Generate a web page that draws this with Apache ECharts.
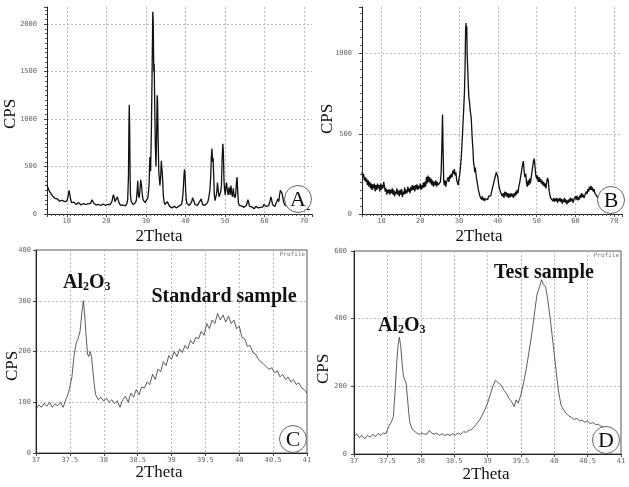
<!DOCTYPE html>
<html>
<head>
<meta charset="utf-8">
<script src="https://cdn.jsdelivr.net/npm/echarts@6/dist/echarts.min.js"></script>
<style>html,body{margin:0;padding:0;background:#fff}#c{width:629px;height:487px}</style>
</head>
<body>
<div id="c"></div>
<script>
// Panel A: full XRD scan of the standard sample [2Theta, CPS]
const patternA = [[5.0,310],[5.2,280],[5.4,260],[5.6,240],[5.8,225],[6.0,215],[6.2,200],[6.4,190],[6.6,175],[6.8,180],[7.0,165],[7.2,170],[7.4,150],[7.6,160],[7.8,140],[8.0,150],[8.2,135],[8.4,155],[8.6,130],[8.8,145],[9.0,135],[9.2,150],[9.4,130],[9.6,140],[9.8,150],[10.0,135],[10.2,160],[10.4,180],[10.6,250],[10.7,255],[10.8,200],[11.0,150],[11.2,120],[11.4,130],[11.6,110],[11.8,125],[12.0,105],[12.2,120],[12.4,100],[12.6,115],[12.8,105],[13.0,120],[13.2,100],[13.4,110],[13.6,95],[13.8,115],[14.0,100],[14.2,110],[14.4,95],[14.6,105],[14.8,100],[15.0,115],[15.2,95],[15.4,110],[15.6,100],[15.8,120],[16.0,110],[16.2,130],[16.4,150],[16.6,140],[16.8,115],[17.0,100],[17.2,110],[17.4,95],[17.6,105],[17.8,90],[18.0,100],[18.2,95],[18.4,110],[18.6,90],[18.8,100],[19.0,95],[19.2,105],[19.4,85],[19.6,100],[19.8,90],[20.0,95],[20.2,85],[20.4,100],[20.6,90],[20.8,110],[21.0,100],[21.2,115],[21.4,130],[21.6,170],[21.8,205],[22.0,170],[22.2,130],[22.4,120],[22.6,140],[22.8,180],[23.0,160],[23.2,120],[23.4,100],[23.6,90],[23.8,95],[24.0,85],[24.2,95],[24.4,80],[24.6,90],[24.8,85],[25.0,100],[25.2,110],[25.4,150],[25.6,400],[25.7,880],[25.8,1150],[25.9,900],[26.0,450],[26.1,200],[26.3,130],[26.5,110],[26.8,100],[27.0,110],[27.2,105],[27.4,120],[27.6,150],[27.8,250],[27.95,350],[28.1,200],[28.3,170],[28.5,250],[28.7,360],[28.8,380],[28.9,300],[29.1,200],[29.3,150],[29.5,130],[29.8,120],[30.0,125],[30.2,140],[30.5,170],[30.8,300],[31.0,600],[31.2,450],[31.4,900],[31.6,1600],[31.75,2130],[31.85,2050],[32.0,1500],[32.1,1580],[32.25,1100],[32.4,700],[32.55,500],[32.7,800],[32.85,1250],[32.95,1200],[33.1,800],[33.25,450],[33.4,380],[33.55,300],[33.75,400],[33.9,560],[34.05,570],[34.2,400],[34.4,200],[34.6,130],[34.8,100],[35.0,90],[35.2,110],[35.4,130],[35.6,150],[35.8,110],[36.0,80],[36.2,70],[36.4,85],[36.6,65],[36.8,75],[37.0,65],[37.2,80],[37.4,70],[37.6,75],[37.8,65],[38.0,80],[38.2,70],[38.4,85],[38.6,75],[38.8,90],[39.0,100],[39.2,140],[39.4,220],[39.6,380],[39.75,470],[39.9,420],[40.05,250],[40.2,150],[40.4,110],[40.6,95],[40.8,100],[41.0,90],[41.2,100],[41.4,110],[41.6,130],[41.8,170],[42.0,180],[42.2,130],[42.4,100],[42.6,90],[42.8,95],[43.0,90],[43.2,100],[43.4,110],[43.6,130],[43.8,150],[44.0,160],[44.2,120],[44.4,95],[44.6,90],[44.8,105],[45.0,95],[45.2,110],[45.4,100],[45.6,120],[45.8,150],[46.0,200],[46.2,260],[46.4,400],[46.55,600],[46.7,690],[46.85,550],[47.0,590],[47.15,400],[47.3,200],[47.5,140],[47.7,150],[47.9,220],[48.1,330],[48.3,250],[48.5,180],[48.7,170],[48.9,230],[49.1,300],[49.3,600],[49.45,740],[49.6,650],[49.75,350],[49.9,250],[50.05,200],[50.2,280],[50.4,330],[50.6,240],[50.8,200],[51.0,280],[51.15,250],[51.3,200],[51.5,300],[51.7,220],[51.9,180],[52.1,270],[52.3,200],[52.5,170],[52.7,200],[52.9,330],[53.05,390],[53.2,250],[53.4,120],[53.6,90],[53.8,80],[54.0,75],[54.2,85],[54.4,70],[54.6,80],[54.8,70],[55.0,85],[55.2,75],[55.4,90],[55.6,110],[55.8,150],[56.0,120],[56.2,80],[56.4,70],[56.6,60],[56.8,75],[57.0,60],[57.2,70],[57.4,55],[57.6,65],[57.8,80],[58.0,70],[58.2,85],[58.4,65],[58.6,75],[58.8,60],[59.0,70],[59.2,65],[59.4,80],[59.6,75],[59.8,100],[60.0,120],[60.2,110],[60.4,80],[60.6,70],[60.8,90],[61.0,85],[61.2,110],[61.4,140],[61.6,180],[61.8,150],[62.0,100],[62.2,85],[62.4,95],[62.6,80],[62.8,100],[63.0,120],[63.2,140],[63.4,160],[63.6,130],[63.8,200],[64.0,250],[64.2,240],[64.4,220],[64.6,180],[64.8,130],[65.0,110],[65.2,90],[65.4,80],[65.6,70],[65.8,85],[66.0,65],[66.2,70],[66.4,60],[66.6,55],[66.8,65],[67.0,50],[67.2,55],[67.4,45],[67.6,50],[67.8,60],[68.0,45],[68.2,50],[68.4,40],[68.6,55],[68.8,45],[69.0,50],[69.2,40],[69.4,50],[69.6,45],[69.8,55],[70.0,40],[70.2,50],[70.4,45],[70.6,55],[70.8,40],[71.0,50],[71.2,45],[71.4,50]];

// Panel B: full XRD scan of the test sample [2Theta, CPS]
const patternB = [[5.0,260],[5.2,230],[5.4,250],[5.6,210],[5.8,230],[6.0,200],[6.2,220],[6.4,180],[6.6,210],[6.8,170],[7.0,200],[7.2,160],[7.4,190],[7.6,150],[7.8,185],[8.0,160],[8.2,190],[8.4,140],[8.6,180],[8.8,150],[9.0,190],[9.2,160],[9.4,180],[9.6,140],[9.8,190],[10.0,150],[10.2,180],[10.4,160],[10.6,200],[10.8,170],[11.0,140],[11.2,160],[11.4,120],[11.6,150],[11.8,130],[12.0,155],[12.2,120],[12.4,150],[12.6,130],[12.8,160],[13.0,120],[13.2,150],[13.4,110],[13.6,140],[13.8,125],[14.0,160],[14.2,120],[14.4,145],[14.6,110],[14.8,150],[15.0,120],[15.2,155],[15.4,105],[15.6,140],[15.8,120],[16.0,165],[16.2,125],[16.4,150],[16.6,130],[16.8,170],[17.0,140],[17.2,160],[17.4,130],[17.6,170],[17.8,145],[18.0,180],[18.2,150],[18.4,175],[18.6,140],[18.8,180],[19.0,155],[19.2,185],[19.4,150],[19.6,175],[19.8,160],[20.0,190],[20.2,150],[20.4,180],[20.6,160],[20.8,195],[21.0,165],[21.2,200],[21.4,170],[21.6,230],[21.8,190],[22.0,240],[22.2,200],[22.4,230],[22.6,190],[22.8,220],[23.0,180],[23.2,210],[23.4,170],[23.6,200],[23.8,180],[24.0,210],[24.2,170],[24.4,200],[24.6,180],[24.8,190],[25.0,170],[25.2,200],[25.4,260],[25.6,450],[25.75,620],[25.9,400],[26.05,210],[26.2,180],[26.4,210],[26.6,170],[26.8,200],[27.0,190],[27.2,230],[27.4,200],[27.6,240],[27.8,220],[28.0,250],[28.2,230],[28.4,270],[28.6,250],[28.8,280],[29.0,240],[29.2,260],[29.4,210],[29.6,200],[29.8,180],[30.0,220],[30.2,250],[30.4,300],[30.6,360],[30.8,450],[31.0,550],[31.2,650],[31.4,760],[31.55,900],[31.7,1150],[31.8,1190],[31.9,1100],[32.0,1170],[32.1,1000],[32.25,900],[32.4,800],[32.55,720],[32.7,700],[32.85,650],[33.0,640],[33.15,600],[33.3,520],[33.45,450],[33.6,400],[33.75,320],[33.9,300],[34.05,260],[34.2,290],[34.4,240],[34.6,210],[34.8,180],[35.0,150],[35.2,130],[35.4,110],[35.6,100],[35.8,90],[36.0,110],[36.2,85],[36.4,100],[36.6,80],[36.8,95],[37.0,85],[37.2,100],[37.4,90],[37.6,110],[37.8,100],[38.0,120],[38.2,115],[38.4,140],[38.6,150],[38.8,180],[39.0,190],[39.2,220],[39.4,240],[39.6,260],[39.8,250],[40.0,230],[40.2,190],[40.4,160],[40.6,150],[40.8,130],[41.0,140],[41.2,110],[41.4,130],[41.6,100],[41.8,140],[42.0,115],[42.2,135],[42.4,105],[42.6,130],[42.8,100],[43.0,125],[43.2,105],[43.4,130],[43.6,110],[43.8,125],[44.0,100],[44.2,130],[44.4,110],[44.6,140],[44.8,120],[45.0,150],[45.2,130],[45.4,170],[45.6,190],[45.8,220],[46.0,250],[46.2,280],[46.4,310],[46.6,330],[46.8,260],[47.0,230],[47.2,250],[47.4,190],[47.6,170],[47.8,210],[48.0,180],[48.2,220],[48.4,190],[48.6,230],[48.8,260],[49.0,300],[49.2,330],[49.4,345],[49.6,290],[49.8,240],[50.0,220],[50.2,240],[50.4,200],[50.6,230],[50.8,200],[51.0,220],[51.2,190],[51.4,210],[51.6,180],[51.8,200],[52.0,170],[52.2,190],[52.4,160],[52.6,200],[52.8,225],[53.0,210],[53.2,150],[53.4,120],[53.6,100],[53.8,90],[54.0,105],[54.2,80],[54.4,100],[54.6,75],[54.8,95],[55.0,80],[55.2,100],[55.4,70],[55.6,95],[55.8,80],[56.0,100],[56.2,75],[56.4,95],[56.6,65],[56.8,90],[57.0,75],[57.2,100],[57.4,70],[57.6,90],[57.8,60],[58.0,85],[58.2,70],[58.4,95],[58.6,75],[58.8,100],[59.0,80],[59.2,95],[59.4,70],[59.6,90],[59.8,80],[60.0,110],[60.2,90],[60.4,115],[60.6,85],[60.8,105],[61.0,90],[61.2,120],[61.4,100],[61.6,130],[61.8,105],[62.0,120],[62.2,100],[62.4,115],[62.6,110],[62.8,140],[63.0,125],[63.2,155],[63.4,140],[63.6,170],[63.8,150],[64.0,175],[64.2,150],[64.4,165],[64.6,140],[64.8,155],[65.0,130],[65.2,140],[65.4,115],[65.6,120],[65.8,100],[66.0,105],[66.2,90],[66.4,95],[66.6,80],[66.8,85],[67.0,70],[67.2,75],[67.4,65],[67.6,70],[67.8,60],[68.0,65]];

// Panel C: standard sample, 37-41 degrees [2Theta, CPS]
const patternC = [[37.00,85],[37.04,95],[37.08,90],[37.12,98],[37.16,92],[37.20,100],[37.24,90],[37.28,97],[37.32,93],[37.36,100],[37.40,90],[37.44,105],[37.47,115],[37.50,130],[37.53,150],[37.56,190],[37.59,215],[37.62,225],[37.65,240],[37.68,280],[37.70,300],[37.72,270],[37.74,230],[37.76,195],[37.78,190],[37.80,200],[37.82,190],[37.84,160],[37.86,135],[37.88,115],[37.92,105],[37.96,110],[38.00,102],[38.04,108],[38.08,100],[38.12,105],[38.16,97],[38.20,103],[38.24,90],[38.28,105],[38.32,112],[38.36,100],[38.40,118],[38.44,110],[38.48,125],[38.52,115],[38.56,130],[38.60,128],[38.64,140],[38.68,135],[38.72,155],[38.76,145],[38.80,165],[38.84,160],[38.88,180],[38.92,172],[38.96,192],[39.00,185],[39.04,200],[39.08,190],[39.12,205],[39.16,198],[39.20,212],[39.24,205],[39.28,222],[39.32,215],[39.36,228],[39.40,225],[39.44,240],[39.48,232],[39.52,255],[39.56,245],[39.60,262],[39.64,255],[39.68,275],[39.72,262],[39.76,272],[39.80,258],[39.84,270],[39.88,255],[39.92,262],[39.96,245],[40.00,250],[40.04,228],[40.08,225],[40.12,210],[40.16,212],[40.20,198],[40.24,195],[40.28,185],[40.32,180],[40.36,175],[40.40,170],[40.44,165],[40.48,168],[40.52,158],[40.56,162],[40.60,150],[40.64,155],[40.68,145],[40.72,150],[40.76,140],[40.80,145],[40.84,135],[40.88,138],[40.92,128],[40.96,125],[41.00,118]];

// Panel D: test sample, 37-41 degrees [2Theta, CPS]
const patternD = [[37.00,50],[37.04,60],[37.08,48],[37.12,55],[37.16,45],[37.20,55],[37.24,50],[37.28,58],[37.32,52],[37.36,60],[37.40,55],[37.44,62],[37.48,60],[37.50,72],[37.53,85],[37.56,95],[37.59,110],[37.62,200],[37.64,270],[37.66,320],[37.68,345],[37.70,320],[37.72,270],[37.74,230],[37.76,220],[37.78,210],[37.80,170],[37.82,120],[37.84,90],[37.87,75],[37.90,68],[37.94,62],[37.98,58],[38.02,62],[38.06,58],[38.10,60],[38.13,70],[38.16,62],[38.20,58],[38.24,62],[38.28,55],[38.32,60],[38.36,55],[38.40,58],[38.44,55],[38.48,60],[38.52,56],[38.56,62],[38.60,58],[38.64,66],[38.68,64],[38.72,70],[38.76,72],[38.80,80],[38.84,90],[38.88,100],[38.92,115],[38.96,130],[39.00,150],[39.04,175],[39.08,200],[39.12,218],[39.16,210],[39.20,205],[39.24,190],[39.28,180],[39.32,165],[39.36,155],[39.40,140],[39.43,160],[39.46,150],[39.50,175],[39.54,210],[39.58,250],[39.62,300],[39.66,350],[39.70,410],[39.74,470],[39.78,495],[39.81,515],[39.84,500],[39.87,495],[39.90,460],[39.94,400],[39.98,330],[40.02,260],[40.06,190],[40.10,145],[40.14,130],[40.18,120],[40.22,112],[40.26,108],[40.30,102],[40.34,105],[40.38,98],[40.42,100],[40.46,94],[40.50,97],[40.54,90],[40.58,93],[40.62,87],[40.66,88],[40.70,82],[40.74,80],[40.78,78],[40.82,75]];

const panelLetters = ['A', 'B', 'C', 'D'];
const yAxisTitle = 'CPS';
const xAxisTitle = '2Theta';

const serif = '"Liberation Serif", "Times New Roman", serif';
const mono = '"DejaVu Sans Mono", monospace';
const tickLabel = { fontFamily: mono, fontSize: 7, color: '#666', formatter: function (v) { return String(v); } };
const gridLine = { show: true, showMinLine: false, showMaxLine: false, lineStyle: { type: [2, 2], color: '#bbb', width: 1 } };

function xAx(i, min, max, interval, wide) {
  const o = {
    gridIndex: i, type: 'value', min: min, max: max,
    axisLine: { show: true, onZero: false, lineStyle: { color: '#222', width: 1 } },
    axisTick: { show: true, length: 3, lineStyle: { color: '#444' } },
    minorTick: { show: wide, splitNumber: 10, length: 2, lineStyle: { color: '#555' } },
    axisLabel: Object.assign({ margin: 4, showMinLabel: !wide, showMaxLabel: !wide }, tickLabel),
    splitLine: gridLine
  };
  if (interval) o.interval = interval;
  return o;
}
function yAx(i, max, interval, margin, wide) {
  return {
    gridIndex: i, type: 'value', min: 0, max: max, interval: interval,
    axisLine: { show: true, onZero: false, lineStyle: { color: '#222', width: 1 } },
    axisTick: { show: true, length: 3, lineStyle: { color: '#444' } },
    minorTick: { show: wide, splitNumber: 10, length: 2, lineStyle: { color: '#555' } },
    axisLabel: Object.assign({ margin: margin, showMaxLabel: !wide }, tickLabel),
    splitLine: gridLine
  };
}
function ser(i, data, color, width) {
  return { type: 'line', xAxisIndex: i, yAxisIndex: i, data: data, showSymbol: false, symbol: 'none',
    animation: false, lineStyle: { color: color, width: width }, z: 3 };
}
function circ(cx, cy, letter) {
  return [
    { type: 'circle', z: 100, shape: { cx: cx, cy: cy, r: 13.5 }, style: { fill: '#fff', stroke: '#666', lineWidth: 1 } },
    { type: 'text', z: 101, x: cx, y: cy + 1, style: { text: letter, font: '22px ' + serif, fill: '#111', align: 'center', verticalAlign: 'middle' } }
  ];
}
function lab(x, y, text, rot) {
  return { type: 'text', z: 101, x: x, y: y, rotation: rot ? Math.PI / 2 : 0,
    style: { text: text, font: '17px ' + serif, fill: '#111', align: 'center', verticalAlign: 'middle' } };
}
function chem(x, y) {
  return { type: 'text', z: 101, x: x, y: y,
    style: { text: '{m|Al}{s|2}{m|O}{s|3}', fill: '#111', verticalAlign: 'middle',
      rich: {
        m: { fontFamily: serif, fontWeight: 'bold', fontSize: 20, lineHeight: 20, padding: [0, 0, 4, 0], verticalAlign: 'top', fill: '#111' },
        s: { fontFamily: serif, fontWeight: 'bold', fontSize: 12, lineHeight: 12, verticalAlign: 'bottom', fill: '#111' }
      } } };
}
function bold(x, y, text) {
  return { type: 'text', z: 101, x: x, y: y,
    style: { text: text, font: 'bold 20px ' + serif, fill: '#111', align: 'center', verticalAlign: 'middle' } };
}
function small(x, y, text) {
  return { type: 'text', z: 101, x: x, y: y,
    style: { text: text, font: '6px ' + mono, fill: '#777', align: 'right', verticalAlign: 'middle' } };
}

const option = {
  backgroundColor: '#fff',
  animation: false,
  grid: [
    { left: 47, top: 7, width: 265, height: 207 },
    { left: 362, top: 7, width: 260, height: 207 },
    { left: 36, top: 250, width: 271, height: 203, show: true, borderColor: '#555', borderWidth: 1 },
    { left: 354, top: 251, width: 267, height: 203, show: true, borderColor: '#555', borderWidth: 1 }
  ],
  xAxis: [
    xAx(0, 5, 72, null, true),
    xAx(1, 5, 72, null, true),
    xAx(2, 37, 41, 0.5, false),
    xAx(3, 37, 41, 0.5, false)
  ],
  yAxis: [
    yAx(0, 2180, 500, 10, true),
    yAx(1, 1290, 500, 10, true),
    yAx(2, 400, 100, 5, false),
    yAx(3, 600, 200, 7, false)
  ],
  series: [
    ser(0, patternA, '#111', 1.3),
    ser(1, patternB, '#111', 1.3),
    ser(2, patternC, '#333', 0.8),
    ser(3, patternD, '#333', 0.8)
  ],
  graphic: [].concat(
    circ(298, 199, panelLetters[0]),
    circ(611, 200, panelLetters[1]),
    circ(293, 439, panelLetters[2]),
    circ(606, 440, panelLetters[3]),
    [
      lab(10.5, 114, yAxisTitle, true),
      lab(327.5, 119, yAxisTitle, true),
      lab(12.5, 366, yAxisTitle, true),
      lab(323.5, 369, yAxisTitle, true),
      lab(159, 237, xAxisTitle),
      lab(479, 237, xAxisTitle),
      lab(159, 473, xAxisTitle),
      lab(486, 475, xAxisTitle),
      chem(63, 283),
      chem(378, 326),
      bold(224, 297, 'Standard sample'),
      bold(544, 273, 'Test sample'),
      small(305, 254, 'Profile'),
      small(619, 255, 'Profile')
    ]
  )
};

const chart = echarts.init(document.getElementById('c'), null, { renderer: 'canvas' });
chart.setOption(option);
</script>
</body>
</html>
